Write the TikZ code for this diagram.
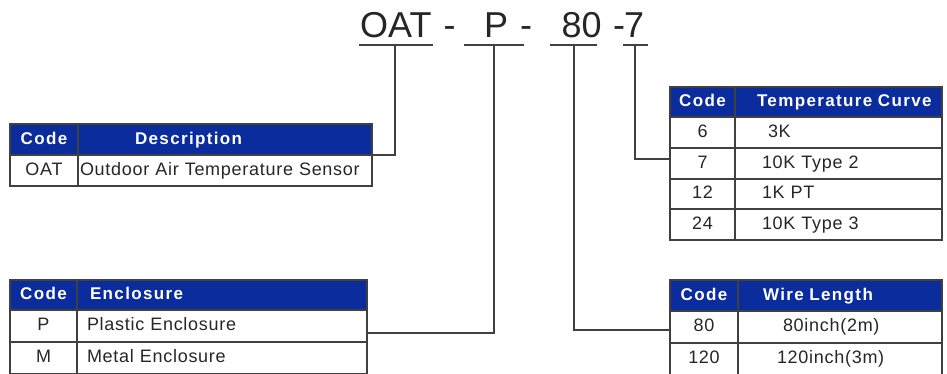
\documentclass[tikz,border=0pt]{standalone}
\usepackage{fontspec}
\setmainfont{Liberation Sans}
\definecolor{hdr}{HTML}{0A2C9C}
\definecolor{ln}{HTML}{404040}
\definecolor{txt}{HTML}{262626}
\tikzset{
  cellbox/.style={draw=ln, line width=1.5pt, anchor=north west, inner sep=0pt, outer sep=0pt, text height=13pt, text depth=4pt},
  hcell/.style={cellbox, fill=hdr, text=white, font=\fontsize{17}{17}\selectfont\bfseries\addfontfeatures{LetterSpace=8}},
  bcell/.style={cellbox, fill=white, text=txt, font=\fontsize{18}{18}\selectfont\addfontfeatures{LetterSpace=4}},
  lcell/.style={align=left},
  conn/.style={draw=ln, line width=1.8pt},
  codetxt/.style={font=\fontsize{36}{36}\selectfont, anchor=base west, inner sep=0pt, text=txt}
}
\begin{document}
\begin{tikzpicture}[x=1pt,y=-1pt]
\useasboundingbox (0,0) rectangle (947,373);
\fill[white] (0,0) rectangle (947,373);

% top code
\node[codetxt] (cOAT) at (360,37) {OAT};
\node[codetxt] (d1) at (443.5,37) {-};
\node[codetxt] (cP) at (484,37) {P};
\node[codetxt] (d2) at (520,37) {-};
\node[codetxt] (c80) at (561.5,37) {80};
\node[codetxt] (d3) at (613,37) {-};
\node[codetxt] (c7) at (624,37) {7};

\coordinate (uOAT) at (395,45);
\coordinate (uP) at (494,45);
\coordinate (u80) at (574,45);
\coordinate (u7) at (635,45);
\draw[conn] (359,45) -- (433,45);
\draw[conn] (464,45) -- (524,45);
\draw[conn] (550,45) -- (597,45);
\draw[conn] (623,45) -- (648,45);

% table 1
\node[hcell, minimum width=68, minimum height=31] (t1hc) at (10,124) {Code};
\node[hcell, lcell, minimum height=31, text width=294] (t1hd) at (78,124) {\hspace*{57pt}Description};
\node[bcell, minimum width=68, minimum height=31] (t1r1c) at (10,155) {OAT};
\node[bcell, lcell, minimum height=31, text width=294] (t1r1d) at (78,155) {\hspace*{2pt}Outdoor Air Temperature Sensor};

% table 2
\node[hcell, minimum width=67, minimum height=30] (t2hc) at (10,280) {Code};
\node[hcell, lcell, minimum height=30, text width=290] (t2hd) at (77,280) {\hspace*{13pt}Enclosure};
\node[bcell, minimum width=67, minimum height=32] (t2r1c) at (10,310) {P};
\node[bcell, lcell, minimum height=32, text width=290] (t2r1d) at (77,310) {\hspace*{10pt}Plastic Enclosure};
\node[bcell, minimum width=67, minimum height=32] (t2r2c) at (10,342) {M};
\node[bcell, lcell, minimum height=32, text width=290] (t2r2d) at (77,342) {\hspace*{10pt}Metal Enclosure};

% table 3
\node[hcell, minimum width=65, minimum height=30] (t3hc) at (670,87) {Code};
\node[hcell, lcell, minimum height=30, text width=207] (t3hd) at (735,87) {\hspace*{22pt}Temperature Curve};
\node[bcell, minimum width=65, minimum height=31] (t3r1c) at (670,117) {6};
\node[bcell, lcell, minimum height=31, text width=207] (t3r1d) at (735,117) {\hspace*{33pt}3K};
\node[bcell, minimum width=65, minimum height=31] (t3r2c) at (670,148) {7};
\node[bcell, lcell, minimum height=31, text width=207] (t3r2d) at (735,148) {\hspace*{27pt}10K Type 2};
\node[bcell, minimum width=65, minimum height=30] (t3r3c) at (670,179) {12};
\node[bcell, lcell, minimum height=30, text width=207] (t3r3d) at (735,179) {\hspace*{27pt}1K PT};
\node[bcell, minimum width=65, minimum height=31] (t3r4c) at (670,209) {24};
\node[bcell, lcell, minimum height=31, text width=207] (t3r4d) at (735,209) {\hspace*{27pt}10K Type 3};

% table 4
\node[hcell, minimum width=68, minimum height=31] (t4hc) at (670,280) {Code};
\node[hcell, lcell, minimum height=31, text width=204] (t4hd) at (738,280) {\hspace*{25pt}Wire Length};
\node[bcell, minimum width=68, minimum height=32] (t4r1c) at (670,311) {80};
\node[bcell, lcell, minimum height=32, text width=204] (t4r1d) at (738,311) {\hspace*{45pt}80inch(2m)};
\node[bcell, minimum width=68, minimum height=32] (t4r2c) at (670,343) {120};
\node[bcell, lcell, minimum height=32, text width=204] (t4r2d) at (738,343) {\hspace*{39pt}120inch(3m)};

% connectors
\draw[conn] (uOAT) |- (t1r1d.north east);
\draw[conn] (uP) |- ([yshift=-7pt]t2r1d.east);
\draw[conn] (u80) |- ([yshift=-3pt]t4r1c.west);
\draw[conn] (u7) |- ([yshift=4.5pt]t3r2c.west);
\end{tikzpicture}
\end{document}
